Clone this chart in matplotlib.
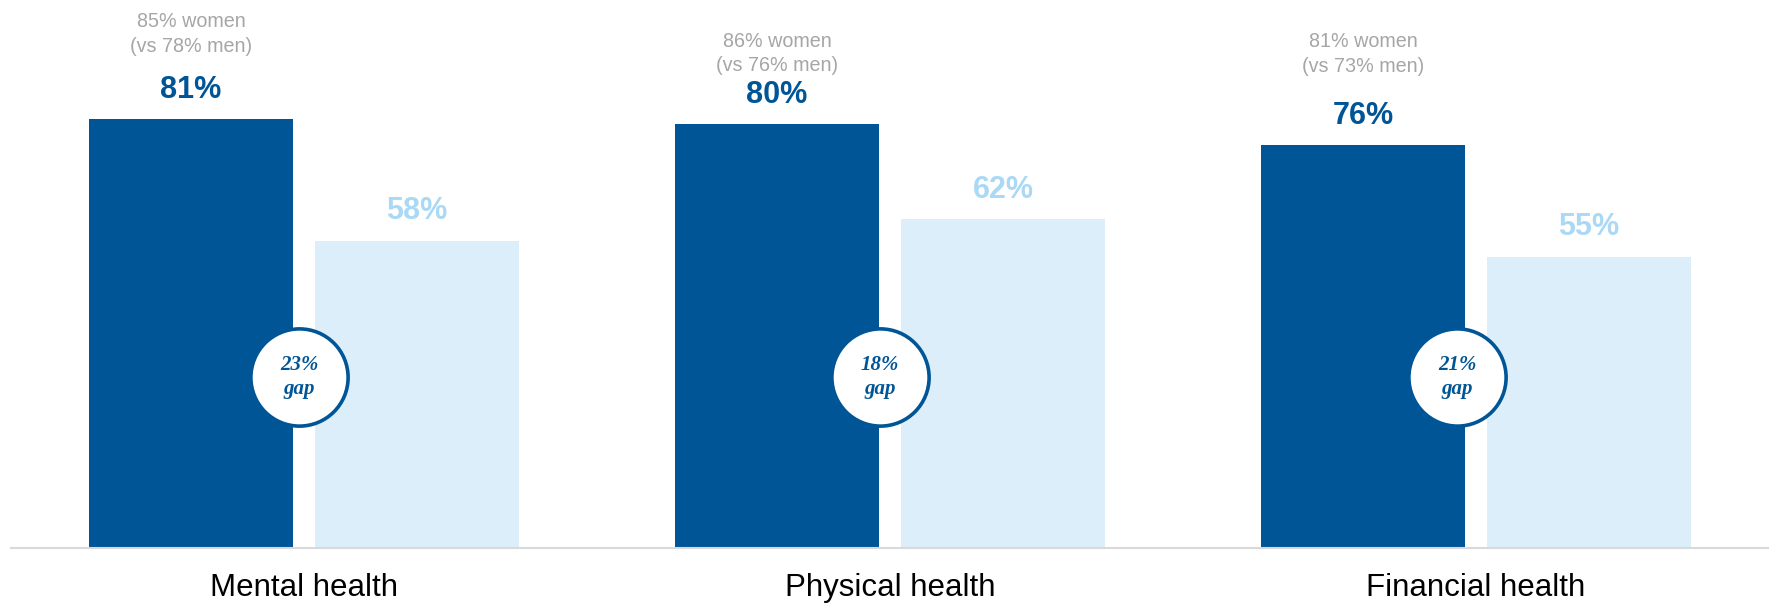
import matplotlib
matplotlib.use("Agg")
import matplotlib.pyplot as plt
import numpy as np

# data
categories = ["Mental health", "Physical health", "Financial health"]
women_plus = [81, 80, 76]      # dark bars
overall = [58, 62, 55]         # light bars
gap_labels = ["23%", "18%", "21%"]
notes = ["85% women\n(vs 78% men)", "86% women\n(vs 76% men)", "81% women\n(vs 73% men)"]

# layout bits
note_y = [97.0, 93.3, 93.2]
circle_shift = [-0.008, -0.017, -0.032]
circle_y = 32.2

dark = "#005596"
light = "#DCEEF9"
light_txt = "#ABD9F5"
grey = "#A6A6A6"

plt.rcParams["font.family"] = ["Liberation Sans", "DejaVu Sans"]

fig = plt.figure(figsize=(17.69, 6.04), dpi=100)
ax = fig.add_axes([11 / 1769, 56 / 604, 1758 / 1769, 548 / 604])

x = np.arange(len(categories))
w = 0.3495
off = 0.1927

ax.bar(x - off, women_plus, width=w, color=dark, zorder=2)
ax.bar(x + off, overall, width=w, color=light, zorder=2)

for i in range(len(categories)):
    ax.annotate(f"{women_plus[i]}%", (x[i] - off, women_plus[i]), xytext=(0, 21),
                textcoords="offset points", ha="center", va="center",
                fontsize=22, fontweight="bold", color=dark)
    ax.annotate(f"{overall[i]}%", (x[i] + off, overall[i]), xytext=(0, 21),
                textcoords="offset points", ha="center", va="center",
                fontsize=22, fontweight="bold", color=light_txt)
    ax.text(x[i] - off, note_y[i], notes[i], ha="center", va="center",
            fontsize=14.2, color=grey, linespacing=1.35)
    # gap bubble
    cx = x[i] + circle_shift[i]
    ax.plot(cx, circle_y, "o", ms=70, mfc="white", mec=dark, mew=2.6, zorder=3)
    ax.text(cx, circle_y, f"{gap_labels[i]}\ngap", ha="center", va="center",
            fontsize=15, fontweight="bold", fontstyle="italic", color=dark,
            family=["Liberation Serif", "DejaVu Serif"], linespacing=1.25, zorder=4)

ax.set_xlim(-0.5, 2.5)
ax.set_ylim(0, 103.4)
ax.set_xticks(x)
ax.set_xticklabels(categories, fontsize=22.5, color="black")
ax.tick_params(axis="x", length=0, pad=18)
ax.set_yticks([])
for s in ["top", "right", "left"]:
    ax.spines[s].set_visible(False)
ax.spines["bottom"].set_color("#D9D9D9")
ax.spines["bottom"].set_linewidth(1.5)

fig.savefig("out.png", dpi=100, facecolor="white")
